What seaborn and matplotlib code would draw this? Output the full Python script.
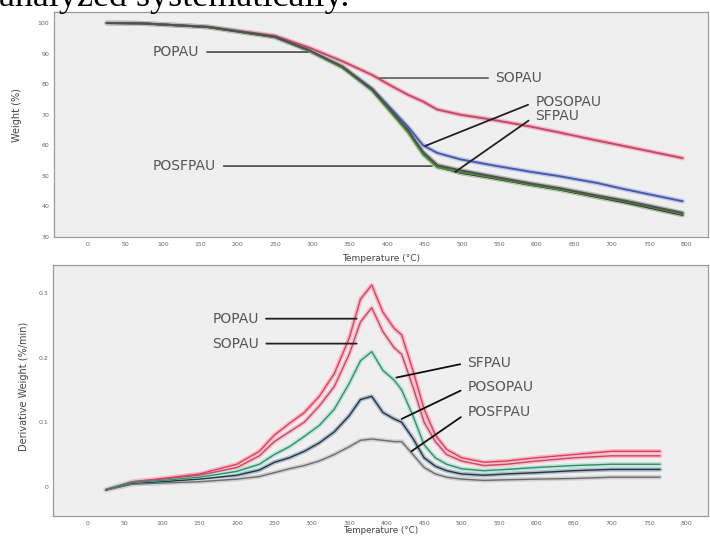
import numpy as np
import pandas as pd
import matplotlib
matplotlib.use("Agg")
import matplotlib.pyplot as plt
import seaborn as sns

# ---------------- data ----------------
samples = ["POPAU", "SOPAU", "POSOPAU", "SFPAU", "POSFPAU"]

# TGA (weight %)
temp_tga = [25, 70, 160, 250, 295, 340, 380, 405, 428, 448, 467, 498, 540, 590, 630, 680, 720, 795]
w_popau   = [100, 99.9, 98.7, 95.4, 91.0, 85.5, 78.0, 71.0, 64.5, 57.5, 53.0, 51.0, 49.3, 47.1, 45.5, 43.1, 41.2, 37.2]
w_sopau   = [100, 99.9, 98.8, 95.8, 92.0, 87.5, 83.0, 79.5, 76.5, 74.3, 71.7, 70.0, 68.4, 66.2, 64.2, 61.6, 59.6, 55.8]
w_posopau = [100, 99.9, 98.7, 95.4, 91.0, 85.7, 78.5, 72.0, 66.0, 60.0, 57.5, 55.4, 53.5, 51.4, 49.9, 47.7, 45.5, 41.7]
w_sfpau   = [100, 99.9, 98.7, 95.4, 91.0, 85.5, 78.0, 70.8, 64.2, 57.0, 52.8, 51.2, 49.5, 47.2, 45.6, 43.3, 41.5, 37.5]
w_posfpau = [100, 99.9, 98.7, 95.5, 91.2, 85.8, 78.3, 71.4, 65.0, 57.8, 53.5, 51.8, 49.9, 47.6, 46.0, 43.6, 41.8, 37.9]

# DTG (derivative weight, %/min)
temp_dtg = [25, 60, 100, 150, 200, 230, 250, 270, 290, 310, 330, 350, 365, 380, 395,
            410, 420, 435, 450, 465, 480, 500, 530, 560, 600, 650, 700, 765]
d_popau   = [-0.004, 0.008, 0.013, 0.020, 0.035, 0.055, 0.080, 0.098, 0.115, 0.140, 0.175, 0.230, 0.290, 0.312,
             0.270, 0.245, 0.235, 0.180, 0.120, 0.080, 0.058, 0.045, 0.038, 0.040, 0.045, 0.050, 0.055, 0.055]
d_sopau   = [-0.004, 0.008, 0.012, 0.018, 0.030, 0.048, 0.070, 0.085, 0.100, 0.125, 0.155, 0.205, 0.255, 0.277,
             0.240, 0.215, 0.205, 0.155, 0.100, 0.070, 0.050, 0.040, 0.033, 0.035, 0.040, 0.045, 0.048, 0.048]
d_sfpau   = [-0.004, 0.007, 0.010, 0.015, 0.024, 0.035, 0.050, 0.062, 0.078, 0.095, 0.120, 0.160, 0.195, 0.209,
             0.180, 0.165, 0.150, 0.110, 0.065, 0.045, 0.035, 0.028, 0.025, 0.027, 0.030, 0.033, 0.035, 0.035]
d_posopau = [-0.005, 0.005, 0.008, 0.012, 0.018, 0.026, 0.038, 0.045, 0.055, 0.068, 0.085, 0.110, 0.135, 0.140,
             0.115, 0.105, 0.100, 0.075, 0.045, 0.032, 0.025, 0.020, 0.018, 0.020, 0.022, 0.025, 0.027, 0.027]
d_posfpau = [-0.005, 0.004, 0.006, 0.008, 0.012, 0.016, 0.022, 0.028, 0.033, 0.040, 0.050, 0.062, 0.072, 0.074,
             0.072, 0.070, 0.070, 0.050, 0.030, 0.020, 0.015, 0.012, 0.010, 0.011, 0.012, 0.013, 0.015, 0.015]

x_ticks = [0, 50, 100, 150, 200, 250, 300, 350, 400, 450, 500, 550, 600, 650, 700, 750, 800]
w_ticks = [30, 40, 50, 60, 70, 80, 90, 100]
d_ticks = [0, 0.1, 0.2, 0.3]
d_tick_labels = ["0", "0.1", "0.2", "0.3"]

tga = pd.concat([pd.DataFrame({"T": temp_tga, "W": w, "sample": s}) for s, w in
                 zip(samples, [w_popau, w_sopau, w_posopau, w_sfpau, w_posfpau])])
dtg = pd.concat([pd.DataFrame({"T": temp_dtg, "D": d, "sample": s}) for s, d in
                 zip(samples, [d_popau, d_sopau, d_posopau, d_sfpau, d_posfpau])])

# ---------------- style ----------------
sns.set_theme(style="white")
plt.rcParams["font.family"] = ["DejaVu Sans"]

tga_pal = {"POPAU": "#2a2a2a", "SOPAU": "#c24a6a", "POSOPAU": "#4a5aa8",
           "SFPAU": "#4f8c3c", "POSFPAU": "#505050"}
tga_halo = {"POPAU": "#b0b0b0", "SOPAU": "#f0b8c8", "POSOPAU": "#c0c8e8",
            "SFPAU": "#c0dcb0", "POSFPAU": "#b8b8b8"}
dtg_pal = {"POPAU": "#e0405a", "SOPAU": "#c84868", "SFPAU": "#2f9070",
           "POSOPAU": "#203848", "POSFPAU": "#6e6e6e"}
dtg_halo = {"POPAU": "#f8b8c4", "SOPAU": "#f4c0cc", "SFPAU": "#bfe4d4",
            "POSOPAU": "#b0bcc8", "POSFPAU": "#d0d0d0"}

fig = plt.figure(figsize=(7.10, 5.36), dpi=100)
W, H = 710, 536

def axes_px(l, t, r, b):
    return fig.add_axes([l / W, 1 - b / H, (r - l) / W, (b - t) / H])

ax1 = axes_px(54, 12, 708, 237)
ax2 = axes_px(53, 265, 708, 516)

for ax in (ax1, ax2):
    ax.set_facecolor("#efefef")
    for sp in ax.spines.values():
        sp.set_color("#9a9a9a")
        sp.set_linewidth(0.9)
    ax.tick_params(axis="both", direction="out", length=2.5, width=0.7, colors="#777777",
                   labelsize=4.5, labelcolor="#666666", pad=1.0)
    ax.set_xlim(-45.5, 829)
    ax.set_xticks(x_ticks)
    ax.set_xticklabels([str(v) for v in x_ticks])

# ---- TGA ----
sns.lineplot(data=tga, x="T", y="W", hue="sample", palette=tga_halo, linewidth=3.4,
             legend=False, ax=ax1, sort=True)
sns.lineplot(data=tga, x="T", y="W", hue="sample", palette=tga_pal, linewidth=1.4,
             legend=False, ax=ax1, sort=True)
ax1.set_ylim(30, 103.6)
ax1.set_yticks(w_ticks)
ax1.set_yticklabels([str(v) for v in w_ticks])
ax1.set_xlabel("Temperature (°C)", fontsize=6.5, color="#444444")
ax1.set_ylabel("Weight (%)", fontsize=7, color="#444444")
ax1.xaxis.set_label_coords(0.5, -0.075)
ax1.yaxis.set_label_coords(-0.049, 0.54)

lab_kw = dict(fontsize=10, color="#555555", va="center")
def pointer(ax, text, xy, xytext, left_text, color):
    ax.annotate(text, xy=xy, xytext=xytext, ha="left", **lab_kw,
                arrowprops=dict(arrowstyle="-", color=color, lw=1.3,
                                relpos=(1, 0.5) if left_text else (0, 0.5),
                                shrinkA=3, shrinkB=0))

pointer(ax1, "POPAU", (294, 90.5), (87, 90.5), True, "#555555")
pointer(ax1, "SOPAU", (390, 82.0), (545, 82.0), False, "#666666")
pointer(ax1, "POSOPAU", (451, 59.8), (598, 74.2), False, "#222222")
pointer(ax1, "SFPAU", (491, 51.3), (598, 69.6), False, "#222222")
pointer(ax1, "POSFPAU", (460, 53.2), (87, 53.2), True, "#555555")

# ---- DTG ----
sns.lineplot(data=dtg, x="T", y="D", hue="sample", palette=dtg_halo, linewidth=3.2,
             legend=False, ax=ax2, sort=True)
sns.lineplot(data=dtg, x="T", y="D", hue="sample", palette=dtg_pal, linewidth=1.0,
             legend=False, ax=ax2, sort=True)
ax2.set_ylim(-0.045, 0.343)
ax2.set_yticks(d_ticks)
ax2.set_yticklabels(d_tick_labels)
ax2.set_xlabel("Temperature (°C)", fontsize=6.3, color="#444444")
ax2.set_ylabel("Derivative Weight (%/min)", fontsize=7, color="#444444")
ax2.xaxis.set_label_coords(0.5, -0.04)
ax2.yaxis.set_label_coords(-0.036, 0.515)

pointer(ax2, "POPAU", (360, 0.260), (167, 0.260), True, "#222222")
pointer(ax2, "SOPAU", (360, 0.2215), (167, 0.2215), True, "#222222")
pointer(ax2, "SFPAU", (413, 0.169), (508, 0.192), False, "#111111")
pointer(ax2, "POSOPAU", (420, 0.105), (508, 0.154), False, "#111111")
pointer(ax2, "POSFPAU", (433, 0.055), (508, 0.115), False, "#111111")

# page text above the chart (cut off at the top, as in the source page)
fig.text(-0.002, 1 - 6 / H, "analyzed systematically.", fontsize=26,
         family=["Liberation Serif", "DejaVu Serif"], color="black",
         ha="left", va="baseline")

fig.savefig("out.png", dpi=100)
